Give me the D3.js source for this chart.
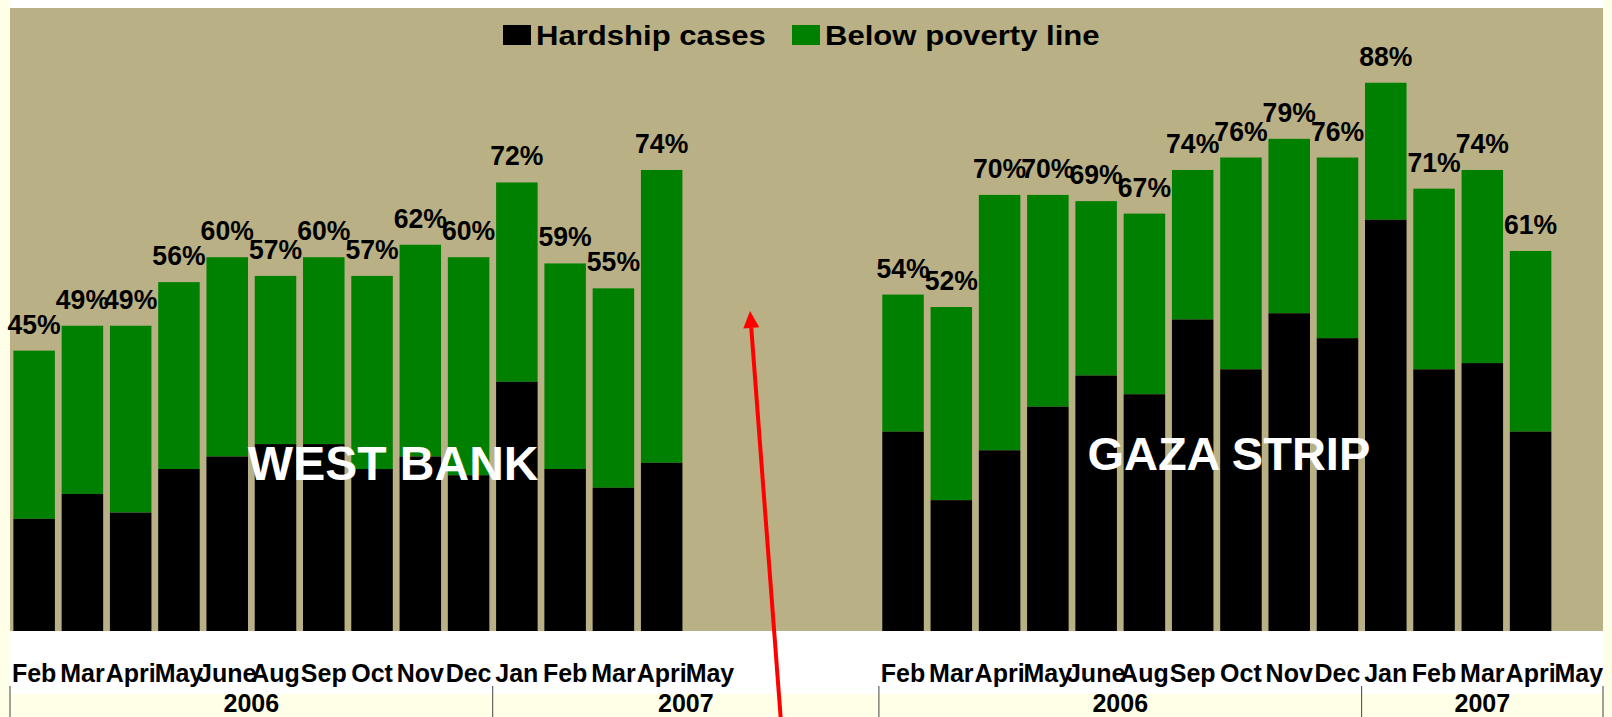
<!DOCTYPE html>
<html>
<head>
<meta charset="utf-8">
<script src="https://cdn.jsdelivr.net/npm/d3@7"></script>
<style>
  html, body { margin: 0; padding: 0; background: #fffee6; overflow: hidden; }
  svg { display: block; font-family: "Liberation Sans", Arial, sans-serif; font-weight: bold; }
</style>
</head>
<body>
<div id="chart"></div>
<script>
// month labels, same for both regions
const months = ["Feb", "Mar", "Apri", "May", "June", "Aug", "Sep", "Oct", "Nov", "Dec", "Jan", "Feb", "Mar", "Apri", "May"];
const yearLabels = ["2006", "2007"];
const yearStarts = [0, 10]; // index of first month of each year

// % of households (null = no survey that month)
const westPoverty  = [45, 49, 49, 56, 60, 57, 60, 57, 62, 60, 72, 59, 55, 74, null];
const westHardship = [18, 22, 19, 26, 28, 30, 30, 26, 28, 25, 40, 26, 23, 27, null];
const gazaPoverty  = [54, 52, 70, 70, 69, 67, 74, 76, 79, 76, 88, 71, 74, 61, null];
const gazaHardship = [32, 21, 29, 36, 41, 38, 50, 42, 51, 47, 66, 42, 43, 32, null];

const regionNames = ["WEST BANK", "GAZA STRIP"];
const gapSlots = 3;

const W = 1612, H = 717;
const colors = { bg: "#b9b185", hardship: "#000000", poverty: "#008000", page: "#fffee6" };

const regions = [
  { key: "wb", name: regionNames[0], poverty: westPoverty, hardship: westHardship },
  { key: "gz", name: regionNames[1], poverty: gazaPoverty, hardship: gazaHardship }
];

// one band slot per month, plus empty slots between the two regions
const slots = [];
months.forEach((m, i) => slots.push(`wb-${i}`));
for (let i = 0; i < gapSlots; i++) slots.push(`gap-${i}`);
months.forEach((m, i) => slots.push(`gz-${i}`));

const plot = { left: 10, right: 1603, top: 8, bottom: 631 };

const x = d3.scaleBand()
  .domain(slots)
  .range([plot.left, plot.right])
  .paddingInner(0.14)
  .paddingOuter(0.07);

const y = d3.scaleLinear()
  .domain([0, 100])
  .range([plot.bottom, plot.top]);

// left edge of a slot (boundary between two slots)
const slotEdge = i => plot.left + i * x.step();

const svg = d3.select("#chart").append("svg")
  .attr("width", W)
  .attr("height", H);

// page / frame
svg.append("rect").attr("x", 0).attr("y", 0).attr("width", W).attr("height", H).attr("fill", colors.page);
svg.append("rect").attr("x", 9).attr("y", 0).attr("width", 1594).attr("height", 694).attr("fill", "#ffffff");
svg.append("rect")
  .attr("x", plot.left).attr("y", plot.top)
  .attr("width", plot.right - plot.left).attr("height", plot.bottom - plot.top)
  .attr("fill", colors.bg);

// bars
regions.forEach(r => {
  const rows = months.map((m, i) => ({ slot: `${r.key}-${i}`, poverty: r.poverty[i], hardship: r.hardship[i] }))
    .filter(d => d.poverty != null);

  const g = svg.append("g").attr("class", `bars-${r.key}`);

  g.selectAll(".poverty")
    .data(rows)
    .enter().append("rect")
    .attr("class", "poverty")
    .attr("x", d => x(d.slot))
    .attr("y", d => y(d.poverty))
    .attr("width", x.bandwidth())
    .attr("height", d => y(d.hardship) - y(d.poverty))
    .attr("fill", colors.poverty);

  g.selectAll(".hardship")
    .data(rows)
    .enter().append("rect")
    .attr("class", "hardship")
    .attr("x", d => x(d.slot))
    .attr("y", d => y(d.hardship))
    .attr("width", x.bandwidth())
    .attr("height", d => y(0) - y(d.hardship))
    .attr("fill", colors.hardship);

  g.selectAll(".val")
    .data(rows)
    .enter().append("text")
    .attr("class", "val")
    .attr("transform", d => `translate(${x(d.slot) + x.bandwidth() / 2},${y(d.poverty) - 17}) scale(0.95,1)`)
    .attr("text-anchor", "middle")
    .style("font-size", "28px")
    .attr("fill", "#000")
    .text(d => d.poverty + "%");

  // month labels
  svg.append("g").selectAll("text")
    .data(months)
    .enter().append("text")
    .attr("x", (m, i) => x(`${r.key}-${i}`) + x.bandwidth() / 2)
    .attr("y", 682)
    .attr("text-anchor", "middle")
    .style("font-size", "25px")
    .attr("fill", "#000")
    .text(m => m);
});

// region names over the bars
svg.append("text")
  .attr("x", slotEdge(8) - 3).attr("y", 480)
  .attr("text-anchor", "middle")
  .style("font-size", "48px")
  .attr("fill", "#ffffff")
  .text(regionNames[0]);

svg.append("text")
  .attr("x", slotEdge(25) + 12).attr("y", 470)
  .attr("text-anchor", "middle")
  .style("font-size", "47px")
  .attr("fill", "#ffffff")
  .text(regionNames[1]);

// year groups: wb 2007 runs on to the start of gaza
const gzStart = months.length + gapSlots;
const yearGroups = [
  { label: yearLabels[0], from: yearStarts[0], to: yearStarts[1] },
  { label: yearLabels[1], from: yearStarts[1], to: gzStart },
  { label: yearLabels[0], from: gzStart + yearStarts[0], to: gzStart + yearStarts[1] },
  { label: yearLabels[1], from: gzStart + yearStarts[1], to: slots.length }
];
const edges = Array.from(new Set(yearGroups.flatMap(d => [d.from, d.to])));

svg.append("g").selectAll("line")
  .data(edges)
  .enter().append("line")
  .attr("x1", d => slotEdge(d)).attr("x2", d => slotEdge(d))
  .attr("y1", 686).attr("y2", H)
  .attr("stroke", "#444").attr("stroke-width", 1);

svg.append("g").selectAll("text")
  .data(yearGroups)
  .enter().append("text")
  .attr("x", d => (slotEdge(d.from) + slotEdge(d.to)) / 2)
  .attr("y", 712)
  .attr("text-anchor", "middle")
  .style("font-size", "25px")
  .attr("fill", "#000")
  .text(d => d.label);

// legend
const legendItems = [
  { name: "Hardship cases", color: colors.hardship, x: 0 },
  { name: "Below poverty line", color: colors.poverty, x: 289 }
];
const legend = svg.append("g").attr("transform", "translate(503,25)");
const li = legend.selectAll("g")
  .data(legendItems)
  .enter().append("g")
  .attr("transform", d => `translate(${d.x},0)`);
li.append("rect")
  .attr("width", 28).attr("height", 20)
  .attr("fill", d => d.color);
li.append("text")
  .attr("transform", "translate(33,20) scale(1.11,1)")
  .style("font-size", "28px")
  .attr("fill", "#000")
  .text(d => d.name);

// red arrow pointing at the missing May bar
const tip = [750, 311], tail = [781, 722];
const len = Math.hypot(tip[0] - tail[0], tip[1] - tail[1]);
const ux = (tip[0] - tail[0]) / len, uy = (tip[1] - tail[1]) / len;
const headL = 17, headW = 8;
const base = [tip[0] - ux * headL, tip[1] - uy * headL];
svg.append("line")
  .attr("x1", tail[0]).attr("y1", tail[1])
  .attr("x2", base[0]).attr("y2", base[1])
  .attr("stroke", "#ff0000").attr("stroke-width", 4);
svg.append("path")
  .attr("d", d3.line()([
    tip,
    [base[0] - uy * headW, base[1] + ux * headW],
    [base[0] + uy * headW, base[1] - ux * headW]
  ]) + "Z")
  .attr("fill", "#ff0000");
</script>
</body>
</html>
